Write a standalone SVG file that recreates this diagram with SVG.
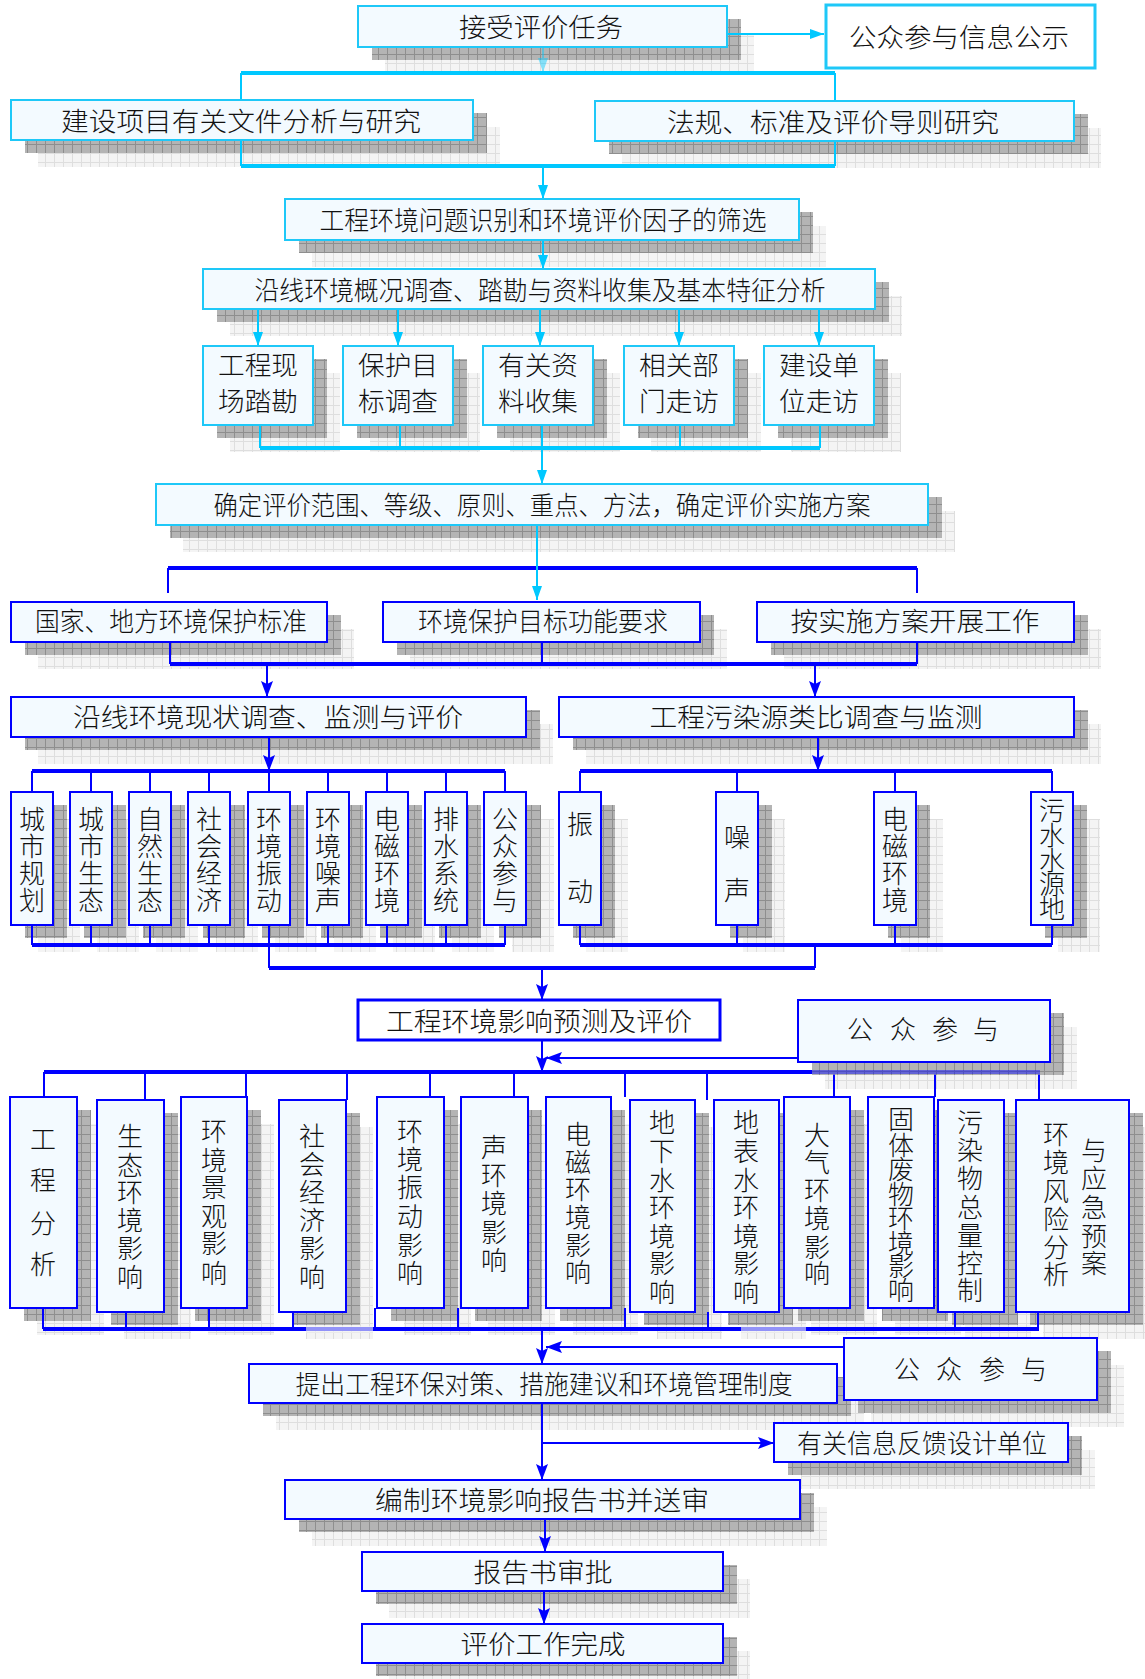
<svg xmlns="http://www.w3.org/2000/svg" width="1145" height="1679" viewBox="0 0 1145 1679">
<style>
.bx{fill:#f3faff;stroke:#1ec8f8;stroke-width:2}
.bxw{fill:#ffffff;stroke:#1ec8f8;stroke-width:3}
.bb{fill:#f3faff;stroke:#0000ff;stroke-width:2}
.bbw{fill:#ffffff;stroke:#0000ff;stroke-width:3}
.sd{fill:url(#pd)}
.sl{fill:url(#pl)}
.c{stroke:#00c8ff;fill:none;stroke-width:2}
.ct{stroke:#00c8ff;fill:none;stroke-width:4}
.b{stroke:#0000ff;fill:none;stroke-width:2}
.bt{stroke:#0000ff;fill:none;stroke-width:4}
.ac{marker-end:url(#mc)}
.ab{marker-end:url(#mb)}
text{font-family:"Noto Sans CJK SC","Noto Sans CJK JP",sans-serif;font-weight:300;fill:#111;dominant-baseline:central;text-anchor:middle;font-size:26px;transform:translateY(-2px)}
</style>
<defs>
<pattern id="pd" width="9" height="9" patternUnits="userSpaceOnUse">
<rect width="9" height="9" fill="#b4b4b4"/>
<path d="M0 0.5H9M0.5 0V9" stroke="#8e8e8e" stroke-width="1"/>
</pattern>
<pattern id="pl" width="9" height="9" patternUnits="userSpaceOnUse">
<rect width="9" height="9" fill="#f4f4f4"/>
<path d="M0 0.5H9M0.5 0V9" stroke="#dedede" stroke-width="1"/>
</pattern>
<marker id="mc" viewBox="0 0 14 10" refX="14" refY="5" markerWidth="14" markerHeight="10" markerUnits="userSpaceOnUse" orient="auto">
<path d="M0 0L14 5L0 10z" fill="#00c8ff"/>
</marker>
<marker id="mb" viewBox="0 0 16 12" refX="16" refY="6" markerWidth="16" markerHeight="12" markerUnits="userSpaceOnUse" orient="auto">
<path d="M0 0L16 6L0 12L3 6z" fill="#0000ff"/>
</marker>
</defs>

<!-- drop shadows: pale layer then darker layer -->
<g id="shadows">
<g class="sl">
<rect x="385" y="33" width="369" height="41"/>
<rect x="38" y="127" width="462" height="40"/>
<rect x="622" y="128" width="479" height="40"/>
<rect x="312" y="226" width="514" height="41"/>
<rect x="230" y="296" width="672" height="40"/>
<rect x="230" y="373" width="110" height="79"/>
<rect x="370" y="373" width="110" height="79"/>
<rect x="510" y="373" width="110" height="79"/>
<rect x="651" y="373" width="110" height="79"/>
<rect x="791" y="373" width="110" height="79"/>
<rect x="183" y="511" width="772" height="41"/>
<rect x="38" y="629" width="316" height="40"/>
<rect x="410" y="629" width="317" height="40"/>
<rect x="784" y="629" width="317" height="40"/>
<rect x="38" y="724" width="515" height="40"/>
<rect x="586" y="724" width="515" height="40"/>
<rect x="38" y="819" width="42" height="133"/>
<rect x="97" y="819" width="42" height="133"/>
<rect x="156" y="819" width="42" height="133"/>
<rect x="216" y="819" width="42" height="133"/>
<rect x="275" y="819" width="42" height="133"/>
<rect x="334" y="819" width="42" height="133"/>
<rect x="393" y="819" width="42" height="133"/>
<rect x="452" y="819" width="42" height="133"/>
<rect x="512" y="819" width="42" height="133"/>
<rect x="586" y="819" width="42" height="133"/>
<rect x="743" y="819" width="42" height="133"/>
<rect x="901" y="819" width="42" height="133"/>
<rect x="1058" y="819" width="42" height="133"/>
<rect x="825" y="1027" width="252" height="62"/>
<rect x="37" y="1124" width="67" height="211"/>
<rect x="124" y="1127" width="67" height="212"/>
<rect x="208" y="1124" width="66" height="211"/>
<rect x="306" y="1127" width="67" height="212"/>
<rect x="404" y="1124" width="67" height="211"/>
<rect x="488" y="1124" width="67" height="211"/>
<rect x="573" y="1124" width="65" height="211"/>
<rect x="657" y="1127" width="65" height="212"/>
<rect x="741" y="1127" width="65" height="212"/>
<rect x="811" y="1124" width="66" height="211"/>
<rect x="895" y="1124" width="66" height="211"/>
<rect x="965" y="1127" width="66" height="212"/>
<rect x="1043" y="1127" width="113" height="212"/>
<rect x="871" y="1365" width="253" height="62"/>
<rect x="276" y="1391" width="588" height="39"/>
<rect x="801" y="1450" width="294" height="39"/>
<rect x="312" y="1507" width="515" height="39"/>
<rect x="389" y="1579" width="361" height="39"/>
<rect x="389" y="1651" width="361" height="39"/>
</g>
<g class="sd">
<rect x="372" y="19" width="369" height="41"/>
<rect x="25" y="113" width="462" height="40"/>
<rect x="609" y="114" width="479" height="40"/>
<rect x="299" y="212" width="514" height="41"/>
<rect x="217" y="282" width="672" height="40"/>
<rect x="217" y="359" width="110" height="79"/>
<rect x="357" y="359" width="110" height="79"/>
<rect x="497" y="359" width="110" height="79"/>
<rect x="638" y="359" width="110" height="79"/>
<rect x="778" y="359" width="110" height="79"/>
<rect x="170" y="497" width="772" height="41"/>
<rect x="25" y="615" width="316" height="40"/>
<rect x="397" y="615" width="317" height="40"/>
<rect x="771" y="615" width="317" height="40"/>
<rect x="25" y="710" width="515" height="40"/>
<rect x="573" y="710" width="515" height="40"/>
<rect x="25" y="805" width="42" height="133"/>
<rect x="84" y="805" width="42" height="133"/>
<rect x="143" y="805" width="42" height="133"/>
<rect x="203" y="805" width="42" height="133"/>
<rect x="262" y="805" width="42" height="133"/>
<rect x="321" y="805" width="42" height="133"/>
<rect x="380" y="805" width="42" height="133"/>
<rect x="439" y="805" width="42" height="133"/>
<rect x="499" y="805" width="42" height="133"/>
<rect x="573" y="805" width="42" height="133"/>
<rect x="730" y="805" width="42" height="133"/>
<rect x="888" y="805" width="42" height="133"/>
<rect x="1045" y="805" width="42" height="133"/>
<rect x="812" y="1013" width="252" height="62"/>
<rect x="24" y="1110" width="67" height="211"/>
<rect x="111" y="1113" width="67" height="212"/>
<rect x="195" y="1110" width="66" height="211"/>
<rect x="293" y="1113" width="67" height="212"/>
<rect x="391" y="1110" width="67" height="211"/>
<rect x="475" y="1110" width="67" height="211"/>
<rect x="560" y="1110" width="65" height="211"/>
<rect x="644" y="1113" width="65" height="212"/>
<rect x="728" y="1113" width="65" height="212"/>
<rect x="798" y="1110" width="66" height="211"/>
<rect x="882" y="1110" width="66" height="211"/>
<rect x="952" y="1113" width="66" height="212"/>
<rect x="1030" y="1113" width="113" height="212"/>
<rect x="858" y="1351" width="253" height="62"/>
<rect x="263" y="1377" width="588" height="39"/>
<rect x="788" y="1436" width="294" height="39"/>
<rect x="299" y="1493" width="515" height="39"/>
<rect x="376" y="1565" width="361" height="39"/>
<rect x="376" y="1637" width="361" height="39"/>
</g>
</g>

<!-- connectors -->
<g id="connectors">
<!-- upper cyan section -->
<path class="c ac" d="M727 34H824"/>
<path class="c ac" d="M543 47V72" opacity="0.45"/>
<path class="ct" d="M241 73H835"/>
<path class="c" d="M241 73V100M835 73V101"/>
<path class="c" d="M241 140V166M835 141V166"/>
<path class="ct" d="M241 166H835"/>
<path class="c ac" d="M543 166V199"/>
<path class="c ac" d="M543 240V269"/>
<path class="c ac" d="M258 309V346"/>
<path class="c ac" d="M398 309V346"/>
<path class="c ac" d="M540 309V346"/>
<path class="c ac" d="M679 309V346"/>
<path class="c ac" d="M819 309V346"/>
<path class="c" d="M260 425V448M400 425V448M542 425V448M680 425V448M820 425V448"/>
<path class="ct" d="M260 448H820"/>
<path class="c ac" d="M542 448V484"/>
<!-- blue section -->
<path class="bt" d="M168 568H917"/>
<path class="b" d="M168 568V593M917 568V593"/>
<path class="c ac" d="M537 525V600"/>
<path class="b" d="M170 642V664M542 642V664M917 642V664"/>
<path class="bt" d="M170 664H917"/>
<path class="b ab" d="M267 664V697"/>
<path class="b ab" d="M815 664V697"/>
<path class="b ab" d="M269 737V771"/>
<path class="b ab" d="M818 737V771"/>
<path class="bt" d="M32 771H505M580 771H1052"/>
<path class="b" d="M32 771V792M91 771V792M150 771V792M209 771V792M269 771V792M328 771V792M387 771V792M446 771V792M505 771V792"/>
<path class="b" d="M580 771V792M737 771V792M895 771V792M1052 771V792"/>
<path class="b" d="M32 925V945M91 925V945M150 925V945M209 925V945M269 925V945M328 925V945M387 925V945M446 925V945M505 925V945"/>
<path class="b" d="M580 925V945M737 925V945M895 925V945M1052 925V945"/>
<path class="bt" d="M32 945H505M580 945H1052"/>
<path class="b" d="M269 945V968M815 945V968"/>
<path class="bt" d="M269 968H815"/>
<path class="b ab" d="M542 968V1000"/>
<path class="b ab" d="M542 1040V1072"/>
<path class="b ab" d="M798 1058H546"/>
<path class="bt" d="M44 1072H1040"/>
<path class="b" d="M44 1072V1097M145 1072V1100M246 1072V1097M347 1072V1100M430 1072V1097M514 1072V1097M625 1072V1097M707 1072V1100M834 1072V1097M935 1072V1097M1039 1072V1100"/>
<path class="b" d="M43 1308V1329M126 1312V1329M209 1308V1329M293 1312V1329M375 1308V1329M458 1308V1329M625 1308V1329M708 1312V1329M955 1312V1329M1038 1312V1329"/>
<path class="bt" d="M43 1329H1039"/>
<rect x="306" y="1326" width="67" height="7" fill="#f4f4f4" opacity="0.6"/>
<rect x="741" y="1326" width="65" height="7" fill="#f4f4f4" opacity="0.6"/>
<rect x="812" y="1069" width="228" height="6" fill="url(#pd)" opacity="0.55"/>
<path class="b ab" d="M542 1329V1364"/>
<path class="b ab" d="M844 1347H546"/>
<path class="b ab" d="M542 1403V1480"/>
<path class="b ab" d="M542 1443H774"/>
<path class="b ab" d="M545 1519V1552"/>
<path class="b ab" d="M544 1591V1624"/>
</g>

<!-- upper stage -->
<g id="n-accept"><rect class="bx" x="358" y="6" width="369" height="41"/><text x="541" y="27" textLength="164" lengthAdjust="spacingAndGlyphs">接受评价任务</text></g>
<g id="n-notice"><rect class="bxw" x="826" y="5" width="269" height="63"/><text x="959" y="37" textLength="220" lengthAdjust="spacingAndGlyphs">公众参与信息公示</text></g>
<g id="n-docs"><rect class="bx" x="11" y="100" width="462" height="40"/><text x="241" y="121" textLength="360" lengthAdjust="spacingAndGlyphs">建设项目有关文件分析与研究</text></g>
<g id="n-laws"><rect class="bx" x="595" y="101" width="479" height="40"/><text x="833" y="122" textLength="332" lengthAdjust="spacingAndGlyphs">法规、标准及评价导则研究</text></g>
<g id="n-screen"><rect class="bx" x="285" y="199" width="514" height="41"/><text x="543" y="220" font-size="25" textLength="447" lengthAdjust="spacingAndGlyphs">工程环境问题识别和环境评价因子的筛选</text></g>
<g id="n-survey"><rect class="bx" x="203" y="269" width="672" height="40"/><text x="540" y="290" font-size="25" textLength="571" lengthAdjust="spacingAndGlyphs">沿线环境概况调查、踏勘与资料收集及基本特征分析</text></g>
<g id="n-site"><rect class="bx" x="203" y="346" width="110" height="79"/><text x="258" y="365" textLength="80" lengthAdjust="spacingAndGlyphs">工程现</text><text x="258" y="401" textLength="80" lengthAdjust="spacingAndGlyphs">场踏勘</text></g>
<g id="n-target"><rect class="bx" x="343" y="346" width="110" height="79"/><text x="398" y="365" textLength="80" lengthAdjust="spacingAndGlyphs">保护目</text><text x="398" y="401" textLength="80" lengthAdjust="spacingAndGlyphs">标调查</text></g>
<g id="n-data"><rect class="bx" x="483" y="346" width="110" height="79"/><text x="538" y="365" textLength="80" lengthAdjust="spacingAndGlyphs">有关资</text><text x="538" y="401" textLength="80" lengthAdjust="spacingAndGlyphs">料收集</text></g>
<g id="n-dept"><rect class="bx" x="624" y="346" width="110" height="79"/><text x="679" y="365" textLength="80" lengthAdjust="spacingAndGlyphs">相关部</text><text x="679" y="401" textLength="80" lengthAdjust="spacingAndGlyphs">门走访</text></g>
<g id="n-owner"><rect class="bx" x="764" y="346" width="110" height="79"/><text x="819" y="365" textLength="80" lengthAdjust="spacingAndGlyphs">建设单</text><text x="819" y="401" textLength="80" lengthAdjust="spacingAndGlyphs">位走访</text></g>
<g id="n-scope"><rect class="bx" x="156" y="484" width="772" height="41"/><text x="542" y="505" font-size="25" textLength="657" lengthAdjust="spacingAndGlyphs">确定评价范围、等级、原则、重点、方法，确定评价实施方案</text></g>

<!-- investigation stage -->
<g id="n-std"><rect class="bb" x="11" y="602" width="316" height="40"/><text x="171" y="621" font-size="25" textLength="272" lengthAdjust="spacingAndGlyphs">国家、地方环境保护标准</text></g>
<g id="n-func"><rect class="bb" x="383" y="602" width="317" height="40"/><text x="543" y="621" font-size="25" textLength="250" lengthAdjust="spacingAndGlyphs">环境保护目标功能要求</text></g>
<g id="n-plan"><rect class="bb" x="757" y="602" width="317" height="40"/><text x="915" y="621" textLength="249" lengthAdjust="spacingAndGlyphs">按实施方案开展工作</text></g>
<g id="n-status"><rect class="bb" x="11" y="697" width="515" height="40"/><text x="268" y="717" textLength="390" lengthAdjust="spacingAndGlyphs">沿线环境现状调查、监测与评价</text></g>
<g id="n-source"><rect class="bb" x="559" y="697" width="515" height="40"/><text x="816" y="717" textLength="333" lengthAdjust="spacingAndGlyphs">工程污染源类比调查与监测</text></g>

<g id="n-s1"><rect class="bb" x="11" y="792" width="42" height="133"/><text x="32 32 32 32" y="819 846 873 900" font-size="26">城市规划</text></g>
<g id="n-s2"><rect class="bb" x="70" y="792" width="42" height="133"/><text x="91 91 91 91" y="819 846 873 900" font-size="26">城市生态</text></g>
<g id="n-s3"><rect class="bb" x="129" y="792" width="42" height="133"/><text x="150 150 150 150" y="819 846 873 900" font-size="26">自然生态</text></g>
<g id="n-s4"><rect class="bb" x="188" y="792" width="42" height="133"/><text x="209 209 209 209" y="819 846 873 900" font-size="26">社会经济</text></g>
<g id="n-s5"><rect class="bb" x="248" y="792" width="42" height="133"/><text x="269 269 269 269" y="819 846 873 900" font-size="26">环境振动</text></g>
<g id="n-s6"><rect class="bb" x="307" y="792" width="42" height="133"/><text x="328 328 328 328" y="819 846 873 900" font-size="26">环境噪声</text></g>
<g id="n-s7"><rect class="bb" x="366" y="792" width="42" height="133"/><text x="387 387 387 387" y="819 846 873 900" font-size="26">电磁环境</text></g>
<g id="n-s8"><rect class="bb" x="425" y="792" width="42" height="133"/><text x="446 446 446 446" y="819 846 873 900" font-size="26">排水系统</text></g>
<g id="n-s9"><rect class="bb" x="484" y="792" width="42" height="133"/><text x="505 505 505 505" y="819 846 873 900" font-size="26">公众参与</text></g>
<g id="n-r1"><rect class="bb" x="559" y="792" width="42" height="133"/><text x="580 580" y="824 891" font-size="26">振动</text></g>
<g id="n-r2"><rect class="bb" x="716" y="792" width="42" height="133"/><text x="737 737" y="837 890" font-size="26">噪声</text></g>
<g id="n-r3"><rect class="bb" x="874" y="792" width="42" height="133"/><text x="895 895 895 895" y="819 846 873 900" font-size="26">电磁环境</text></g>
<g id="n-r4"><rect class="bb" x="1031" y="792" width="42" height="133"/><text x="1052 1052 1052 1052 1052" y="810 835 860 884 908" font-size="24">污水水源地</text></g>

<!-- prediction stage -->
<g id="n-predict"><rect class="bbw" x="358" y="1000" width="362" height="40"/><text x="539" y="1021" textLength="306" lengthAdjust="spacingAndGlyphs">工程环境影响预测及评价</text></g>
<g id="n-public1"><rect class="bb" x="798" y="1000" width="252" height="62"/><text x="860 903 945 986" y="1029" font-size="25">公众参与</text></g>

<g id="n-c1"><rect class="bb" x="10" y="1097" width="67" height="211"/><text x="43 43 43 43" y="1139 1180 1223 1264" font-size="27">工程分析</text></g>
<g id="n-c2"><rect class="bb" x="97" y="1100" width="67" height="212"/><text x="130 130 130 130 130 130" y="1136 1165 1192 1220 1248 1277" font-size="26">生态环境影响</text></g>
<g id="n-c3"><rect class="bb" x="181" y="1097" width="66" height="211"/><text x="214 214 214 214 214 214" y="1131 1160 1187 1216 1243 1273" font-size="26">环境景观影响</text></g>
<g id="n-c4"><rect class="bb" x="279" y="1100" width="67" height="212"/><text x="312 312 312 312 312 312" y="1136 1164 1192 1220 1248 1277" font-size="26">社会经济影响</text></g>
<g id="n-c5"><rect class="bb" x="377" y="1097" width="67" height="211"/><text x="410 410 410 410 410 410" y="1131 1159 1187 1216 1245 1273" font-size="26">环境振动影响</text></g>
<g id="n-c6"><rect class="bb" x="461" y="1097" width="67" height="211"/><text x="494 494 494 494 494" y="1147 1175 1203 1232 1260" font-size="26">声环境影响</text></g>
<g id="n-c7"><rect class="bb" x="546" y="1097" width="65" height="211"/><text x="578 578 578 578 578 578" y="1134 1162 1189 1217 1245 1272" font-size="26">电磁环境影响</text></g>
<g id="n-c8"><rect class="bb" x="630" y="1100" width="65" height="212"/><text x="662 662 662 662 662 662 662" y="1122 1151 1180 1207 1236 1263 1292" font-size="25">地下水环境影响</text></g>
<g id="n-c9"><rect class="bb" x="714" y="1100" width="65" height="212"/><text x="746 746 746 746 746 746 746" y="1122 1151 1180 1207 1236 1263 1292" font-size="25">地表水环境影响</text></g>
<g id="n-c10"><rect class="bb" x="784" y="1097" width="66" height="211"/><text x="817 817 817 817 817 817" y="1135 1162 1190 1218 1247 1273" font-size="26">大气环境影响</text></g>
<g id="n-c11"><rect class="bb" x="868" y="1097" width="66" height="211"/><text x="901 901 901 901 901 901 901 901" y="1119 1145 1169 1194 1218 1243 1266 1290" font-size="23">固体废物环境影响</text></g>
<g id="n-c12"><rect class="bb" x="938" y="1100" width="66" height="212"/><text x="970 970 970 970 970 970 970" y="1122 1150 1178 1207 1235 1263 1290" font-size="26">污染物总量控制</text></g>
<g id="n-c13"><rect class="bb" x="1016" y="1100" width="113" height="212"/><text x="1056 1056 1056 1056 1056 1056" y="1134 1162 1191 1219 1247 1274" font-size="26">环境风险分析</text><text x="1094 1094 1094 1094 1094" y="1150 1178 1207 1236 1263" font-size="26">与应急预案</text></g>

<!-- closing stage -->
<g id="n-public2"><rect class="bb" x="844" y="1338" width="253" height="62"/><text x="907 949 992 1034" y="1369" font-size="25">公众参与</text></g>
<g id="n-measures"><rect class="bb" x="249" y="1364" width="588" height="39"/><text x="544" y="1384" font-size="25" textLength="497" lengthAdjust="spacingAndGlyphs">提出工程环保对策、措施建议和环境管理制度</text></g>
<g id="n-feedback"><rect class="bb" x="774" y="1423" width="294" height="39"/><text x="922" y="1443" font-size="25" textLength="250" lengthAdjust="spacingAndGlyphs">有关信息反馈设计单位</text></g>
<g id="n-report"><rect class="bb" x="285" y="1480" width="515" height="39"/><text x="542" y="1500" textLength="334" lengthAdjust="spacingAndGlyphs">编制环境影响报告书并送审</text></g>
<g id="n-approve"><rect class="bb" x="362" y="1552" width="361" height="39"/><text x="543" y="1572" textLength="139" lengthAdjust="spacingAndGlyphs">报告书审批</text></g>
<g id="n-done"><rect class="bb" x="362" y="1624" width="361" height="39"/><text x="543" y="1644" textLength="165" lengthAdjust="spacingAndGlyphs">评价工作完成</text></g>
</svg>
